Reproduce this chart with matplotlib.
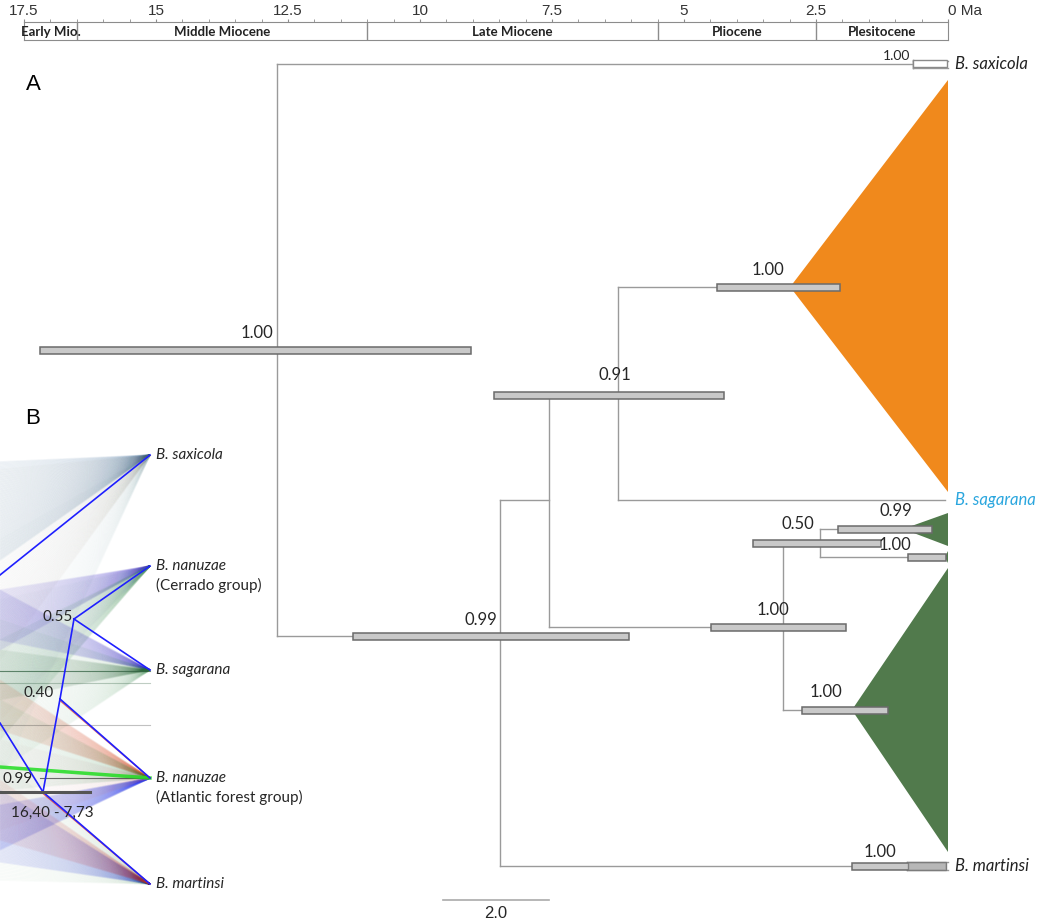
import matplotlib.pyplot as plt
from matplotlib.patches import Rectangle, Polygon
from matplotlib.collections import LineCollection
import numpy as np

# ---- geological time scale (Ma) ----
tick_ages = [17.5, 15, 12.5, 10, 7.5, 5, 2.5, 0]
tick_labels = ['17.5', '15', '12.5', '10', '7.5', '5', '2.5', '0 Ma']
epoch_bounds = [17.5, 16.5, 11.0, 5.5, 2.5, 0.0]
epoch_names = ['Early Mio.', 'Middle Miocene', 'Late Miocene', 'Pliocene', 'Plesitocene']

# ---- panel A: dated tree (ages in Ma, rows in picture units) ----
nodes = ['root', 'sax', 'ing', 'n1', 'n2', 'orange', 'sag', 'n3', 'n4', 'gsmall', 'gtiny', 'gbig', 'mart']
node_age = [12.71, 0.66, 8.48, 7.56, 6.25, 2.99, 0.05, 3.13, 2.42, 0.85, 0.06, 1.82, 0.78]
node_row = [350, 64, 636, 500, 395, 287, 500, 627, 543, 529, 557, 710, 866]
parent = [None, 'root', 'root', 'ing', 'n1', 'n2', 'n2', 'n1', 'n3', 'n4', 'n4', 'n3', 'ing']

hpd_nodes = ['root', 'ing', 'n2', 'orange', 'n3', 'n4', 'gsmall', 'gtiny', 'gbig', 'mart']
hpd_low = [17.20, 11.27, 8.60, 4.38, 4.49, 3.69, 2.08, 0.76, 2.77, 1.82]
hpd_high = [9.03, 6.04, 4.24, 2.05, 1.93, 1.27, 0.30, 0.04, 1.14, 0.04]
posterior = ['1.00', '0.99', '0.91', '1.00', '1.00', '0.50', '0.99', '1.00', '1.00', '1.00']
# label offsets (pixels) relative to bar centre
lab_dx = [1, -10, 6, -10, -6, -19, 11, -32, -19, -19]
lab_dy = [-17, -16, -20, -17, -17, -19, -18, -12, -18, -14]

# collapsed clades: node, top row, bottom row, colour
clade_nodes = ['orange', 'gsmall', 'gtiny', 'gbig']
clade_top = [80, 513, 551, 568]
clade_bottom = [492, 546, 563, 852]
clade_colors = ['#f0891c', '#517a4c', '#517a4c', '#517a4c']

tip_names = ['B. saxicola', 'B. sagarana', 'B. martinsi']
tip_rows = [64, 500, 866]
tip_colors = ['#222222', '#2aa6de', '#222222']

# ---- panel B: densitree summary (picture units) ----
b_tips = ['B. saxicola', 'B. nanuzae', 'B. sagarana', 'B. nanuzae', 'B. martinsi']
b_groups = ['', '(Cerrado group)', '', '(Atlantic forest group)', '']
b_tip_rows = [455, 566, 670, 778, 884]
b_nodes = {'n55': (74, 619), 'n40': (60, 699), 'n99': (43, 792)}
b_support = {'n55': '0.55', 'n40': '0.40', 'n99': '0.99'}

px_per_ma = 52.8
x0 = 948  # pixel of 0 Ma
W, H = 1038, 921

fig = plt.figure(figsize=(W / 100, H / 100), dpi=100)
ax = fig.add_axes([0, 0, 1, 1])
ax.set_xlim(x0 / px_per_ma, -(W - x0) / px_per_ma)
ax.set_ylim(H, 0)
ax.axis('off')

narrow = ['Lato', 'DejaVu Sans']
helv = ['Liberation Sans', 'DejaVu Sans']
line_c = '#9a9a9a'
txt_c = '#262626'

age = dict(zip(nodes, node_age))
row = dict(zip(nodes, node_row))
par = dict(zip(nodes, parent))

# horizontal branches
for n in nodes:
    p = par[n]
    if p is None:
        continue
    ax.plot([age[p], age[n]], [row[n], row[n]], color=line_c, lw=1, zorder=2)
# vertical connectors
for n in nodes:
    kids = [row[c] for c in nodes if par[c] == n]
    if kids:
        ax.plot([age[n], age[n]], [min(kids), max(kids)], color=line_c, lw=1, zorder=2)

# short terminal branches of saxicola and martinsi samples
for n, dy in [('sax', -3), ('sax', 4), ('mart', -4), ('mart', 4)]:
    ax.plot([age[n], 0], [row[n] + dy] * 2, color=line_c, lw=1, zorder=2)
    ax.plot([age[n], age[n]], [row[n] - 4, row[n] + 4], color=line_c, lw=1, zorder=2)

# collapsed clades
for n, t, b, c in zip(clade_nodes, clade_top, clade_bottom, clade_colors):
    ax.add_patch(Polygon([(age[n], row[n]), (0, t), (0, b)], closed=True,
                         facecolor=c, edgecolor='none', zorder=1))

# saxicola node bar (open)
ax.add_patch(Rectangle((age['sax'], row['sax'] - 3.5), -age['sax'] + 0.02, 7,
                       facecolor='white', edgecolor='#8a8a8a', lw=1, zorder=3))
ax.text(age['sax'] + 0.05, row['sax'] - 8, '1.00', ha='right', va='center',
        fontsize=10, family=narrow, color=txt_c)

# HPD bars and posterior labels
for i, n in enumerate(hpd_nodes):
    lo, hi = hpd_low[i], hpd_high[i]
    y = row[n]
    ax.add_patch(Rectangle((lo, y - 3.5), hi - lo, 7, facecolor='#c9c9c9',
                           edgecolor='#6b6b6b', lw=1.1, zorder=4))
    xc = (lo + hi) / 2 - lab_dx[i] / px_per_ma
    ax.text(xc, y + lab_dy[i], posterior[i], ha='center', va='center',
            fontsize=12, family=narrow, color=txt_c, zorder=5)
# second (darker) bar on martinsi
ax.add_patch(Rectangle((0.76, row['mart'] - 4), -0.72, 8, facecolor='#b5b5b5',
                       edgecolor='#7a7a7a', lw=1, zorder=4, alpha=0.9))

# tip labels
for name, r, c in zip(tip_names, tip_rows, tip_colors):
    ax.text(-7 / px_per_ma, r, name, ha='left', va='center', fontsize=12,
            style='italic', family=narrow, color=c)

# scale bar
ax.plot([9.56, 7.56], [900, 900], color='#aaaaaa', lw=1.2)
ax.text(8.56, 913, '2.0', ha='center', va='center', fontsize=12,
        family=helv, color=txt_c)

# panel letters
ax.text(17.33, 85, 'A', fontsize=16, va='center', ha='center', family=helv)
ax.text(17.33, 418, 'B', fontsize=16, va='center', ha='center', family=helv)

# ---- time scale bar ----
ts = fig.add_axes([24 / W, 1 - 40 / H, 924 / W, 18 / H])
ts.set_xlim(17.5, 0)
ts.set_ylim(0, 1)
for s in ts.spines.values():
    s.set_color('#8c8c8c')
ts.set_yticks([])
ts.xaxis.tick_top()
ts.set_xticks(tick_ages)
ts.set_xticklabels(tick_labels, fontsize=11, family=helv, color='#333333')
ts.set_xticks([a / 2 for a in range(0, 35)], minor=True)
ts.tick_params(axis='x', which='both', length=2.5, color='#8c8c8c', pad=0.5)
ts.get_xticklabels()[-1].set_horizontalalignment('left')
for b in epoch_bounds[1:-1]:
    ts.axvline(b, color='#8c8c8c', lw=1)
for a, b, name in zip(epoch_bounds[:-1], epoch_bounds[1:], epoch_names):
    ts.text((a + b) / 2, 0.42, name, ha='center', va='center', fontsize=9.5,
            fontweight='bold', family=narrow, color='#222222')

# ---- panel B ----
bx = fig.add_axes([0, 0, 1, 1])
bx.set_xlim(0, W)
bx.set_ylim(H, 0)
bx.axis('off')
bx.patch.set_alpha(0)

tip_x = 150
# density cloud: tip index, spread at the left edge (top, bottom), colour, alpha per line
fans = [
    (0, 462, 560, '#2f6496', 0.06), (0, 470, 660, '#8b7b62', 0.025),
    (0, 540, 780, '#76a2aa', 0.02),
    (1, 590, 650, '#3c28d0', 0.045), (1, 640, 740, '#2f8a45', 0.04),
    (1, 600, 720, '#7ea2b4', 0.02),
    (2, 590, 640, '#3c30d0', 0.04), (2, 620, 770, '#2f8a45', 0.035),
    (2, 650, 700, '#2b6b3b', 0.03),
    (3, 680, 730, '#e04a20', 0.04), (3, 700, 790, '#2f8a45', 0.035),
    (3, 805, 850, '#2030f0', 0.05), (3, 740, 830, '#d88a8a', 0.025),
    (4, 790, 862, '#2030f0', 0.05), (4, 760, 880, '#2f8a45', 0.025),
    (4, 780, 840, '#d03030', 0.03),
]
for ti, ya, yb, c, a in fans:
    ends = np.linspace(ya, yb, 80)
    segs = [[(tip_x, b_tip_rows[ti]), (0, e)] for e in ends]
    bx.add_collection(LineCollection(segs, colors=c, alpha=a, linewidths=1.2, zorder=1))

# faint horizontal traces
for y, x1, c, a in [(671, 0, '#2b5b3b', 0.7), (683, 0, '#2b5b3b', 0.3),
                    (725, 0, '#333333', 0.3), (778, 40, '#333333', 0.7)]:
    bx.plot([x1, tip_x], [y, y], color=c, lw=0.8, alpha=a, zorder=2)
bx.plot([0, tip_x], [767, b_tip_rows[3]], color='#22dd22', lw=2.5, alpha=0.85, zorder=2)

# consensus tree
blue = '#1f1fff'
n55, n40, n99 = b_nodes['n55'], b_nodes['n40'], b_nodes['n99']
segs = [
    [(tip_x, b_tip_rows[0]), (0, 575)],
    [n99, (0, 723)],
    [n99, n40], [n40, n55],
    [n55, (tip_x, b_tip_rows[1])], [n55, (tip_x, b_tip_rows[2])],
    [n40, (tip_x, b_tip_rows[3])], [n99, (tip_x, b_tip_rows[4])],
]
for (xa, ya), (xb, yb) in segs[6:]:
    bx.plot([xa, xb], [ya + 1.5, yb], color='#e03020', lw=1, alpha=0.7, zorder=3)
for (xa, ya), (xb, yb) in segs:
    bx.plot([xa, xb], [ya, yb], color=blue, lw=1.2, zorder=4)

# HPD bar of the 0.99 node
bx.plot([0, 90], [792, 792], color='#555555', lw=2.2, zorder=5)
bx.text(n55[0] - 1, n55[1] - 2, b_support['n55'], ha='right', va='center',
        fontsize=11, family=narrow, color=txt_c, zorder=6)
bx.text(54, 693, b_support['n40'], ha='right', va='center',
        fontsize=11, family=narrow, color=txt_c, zorder=6)
bx.text(33, 779, b_support['n99'], ha='right', va='center',
        fontsize=11, family=narrow, color=txt_c, zorder=6)
bx.text(11, 813, '16,40 - 7,73', ha='left', va='center',
        fontsize=11, family=narrow, color=txt_c, zorder=6)

for name, grp, r in zip(b_tips, b_groups, b_tip_rows):
    bx.text(156, r, name, ha='left', va='center', fontsize=11, style='italic',
            family=narrow, color=txt_c, zorder=6)
    if grp:
        bx.text(156, r + 19, grp, ha='left', va='center', fontsize=11,
                family=narrow, color=txt_c, zorder=6)

fig.savefig('out.png', dpi=100)
